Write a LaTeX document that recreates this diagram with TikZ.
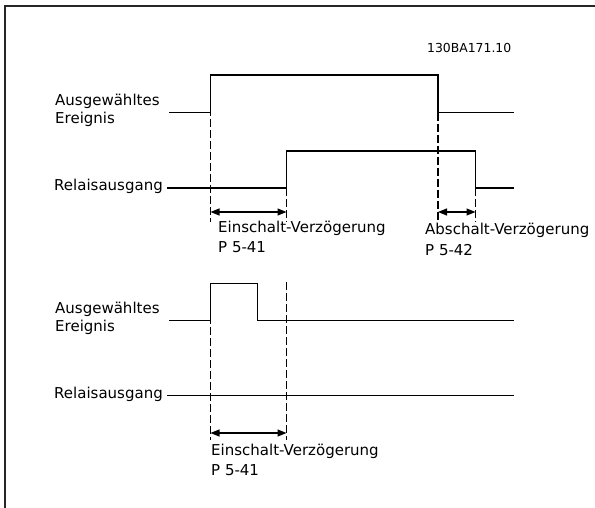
\documentclass[tikz,border=0pt]{standalone}
\usepackage{fontspec}
\setmainfont{DejaVu Sans}
\usetikzlibrary{arrows.meta}
\tikzset{
  wave/.style={line width=1.3pt, line join=miter},
  guide/.style={line width=1.2pt, dash pattern=on 8pt off 3pt},
  span/.style={line width=1.2pt, {Triangle[length=9pt,width=7pt]}-{Triangle[length=9pt,width=7pt]}},
  lbl/.style={anchor=west, inner sep=0pt, font=\fontsize{15}{17}\selectfont},
  idlbl/.style={anchor=west, inner sep=0pt, font=\fontsize{12.4}{15}\selectfont},
  frame/.style={line width=1.5pt, draw=black!85}
}
\begin{document}
\begin{tikzpicture}[x=1pt,y=-1pt]
\useasboundingbox (0,0) rectangle (595,508);
% frame
\coordinate (fA) at (5,508);
\coordinate (fB) at (5,6);
\coordinate (fC) at (595,6);
\draw[frame] (fA) -- (fB) -- (fC);

\node[idlbl] (id) at (427,48) {130BA171.10};

% ---------- top panel ----------
\node[lbl] (tEv1) at (55,101.7) {Ausgewähltes};
\node[lbl] (tEv2) at (55,119.3) {Ereignis};
\node[lbl] (tRel) at (54,186.5) {Relaisausgang};

\coordinate (e0) at (169,112.7);
\coordinate (e1) at (210.5,112.7);
\coordinate (e2) at (210.5,75);
\coordinate (e3) at (438,75);
\coordinate (e4) at (438,112.7);
\coordinate (e5) at (514,112.7);
\draw[wave] (e0) -- (e1) -- (e2) -- (e3) -- (e4) -- (e5);

\coordinate (r0) at (167,188);
\coordinate (r1) at (286.5,188);
\coordinate (r2) at (286.5,151);
\coordinate (r3) at (475.5,151);
\coordinate (r4) at (475.5,188);
\coordinate (r5) at (514,188);
\draw[wave] (r0) -- (r1) -- (r2) -- (r3) -- (r4) -- (r5);

\coordinate (d1) at (210.5,222);
\coordinate (d2) at (286.5,222);
\coordinate (d3) at (438,222);
\coordinate (d4) at (475.5,222);
\draw[guide] (e2) -- (d1);
\draw[guide] (r1) -- (d2);
\draw[guide] (e4) -- (d3);
\draw[guide] (r4) -- (d4);

\coordinate (a1) at (210.5,212);
\coordinate (a2) at (286.5,212);
\coordinate (a3) at (438,212);
\coordinate (a4) at (475.5,212);
\draw[span] (a1) -- (a2);
\draw[span] (a3) -- (a4);

\node[lbl] (tOn1) at (218,228) {Einschalt-Verzögerung};
\node[lbl] (tOn2) at (218,247) {P 5-41};
\node[lbl] (tOff1) at (425,230) {Abschalt-Verzögerung};
\node[lbl] (tOff2) at (425,250) {P 5-42};

% ---------- bottom panel ----------
\node[lbl] (bEv1) at (55,309.5) {Ausgewähltes};
\node[lbl] (bEv2) at (55,327.2) {Ereignis};
\node[lbl] (bRel) at (54,394.5) {Relaisausgang};

\coordinate (f0) at (169,320.7);
\coordinate (f1) at (210.5,320.7);
\coordinate (f2) at (210.5,283.3);
\coordinate (f3) at (257.3,283.3);
\coordinate (f4) at (257.3,320.7);
\coordinate (f5) at (514,320.7);
\draw[wave] (f0) -- (f1) -- (f2) -- (f3) -- (f4) -- (f5);

\coordinate (s0) at (167,395.7);
\coordinate (s1) at (514,395.7);
\draw[wave] (s0) -- (s1);

\coordinate (g1) at (210.5,440);
\coordinate (g2t) at (286.5,282);
\coordinate (g2) at (286.5,440);
\draw[guide] (f2) -- (g1);
\draw[guide] (g2t) -- (g2);

\coordinate (b1) at (210.5,433);
\coordinate (b2) at (286.5,433);
\draw[span] (b1) -- (b2);

\node[lbl] (bOn1) at (211,451.7) {Einschalt-Verzögerung};
\node[lbl] (bOn2) at (211,470) {P 5-41};
\end{tikzpicture}
\end{document}
